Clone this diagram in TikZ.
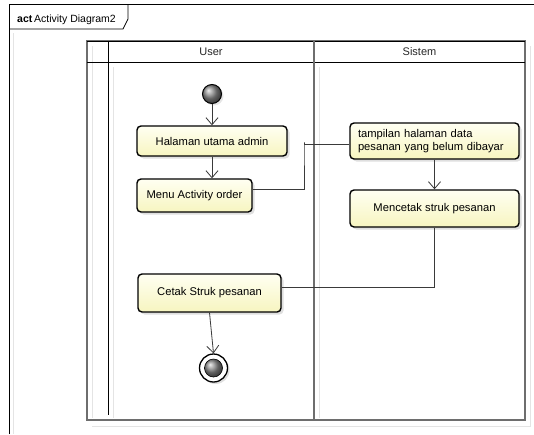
\documentclass[tikz,border=0pt]{standalone}
\usepackage{fontspec}
\setmainfont{Liberation Sans}
\usetikzlibrary{arrows.meta,shadows}

\definecolor{actTop}{HTML}{FFFFF2}
\definecolor{actBot}{HTML}{F7F5C0}
\definecolor{laneLine}{HTML}{6E6E6E}
\definecolor{ghost}{HTML}{E4E4E4}
\definecolor{flow}{HTML}{3A3A3A}

\tikzset{
  action/.style={draw=black, line width=1.4pt, rounded corners=4pt,
    top color=actTop, bottom color=actBot, font=\fontsize{11.2}{13.5}\selectfont,
    inner sep=0pt,
    drop shadow={shadow xshift=2.5pt, shadow yshift=-2.5pt, opacity=0.25, fill=gray}},
  flowline/.style={draw=flow, line width=0.8pt},
  flowarrow/.style={flowline, -{Straight Barb[length=7pt,width=12pt,line width=0.8pt]}},
  startnode/.style={circle, draw=black, line width=1pt, minimum size=19pt, inner sep=0pt,
    shading=ball, ball color=black!45,
    drop shadow={shadow xshift=2pt, shadow yshift=-2pt, opacity=0.2, fill=gray}},
  endouter/.style={circle, draw=black, line width=1.3pt, fill=white, minimum size=28pt, inner sep=0pt,
    drop shadow={shadow xshift=2pt, shadow yshift=-2pt, opacity=0.25, fill=gray}},
  endinner/.style={circle, draw=black, line width=0.6pt, minimum size=18pt, inner sep=0pt,
    shading=ball, ball color=black!45},
  lanelabel/.style={font=\fontsize{11}{13}\selectfont, text=black!85},
}

\begin{document}
\begin{tikzpicture}[x=1pt, y=-1pt]
\useasboundingbox[fill=white] (0,0) rectangle (534,434);

% diagram frame and its name tab
\draw[ghost, line width=0.8pt] (13,434) -- (13,33);
\draw[black, line width=1pt] (9,434) -- (9,4) -- (534,4);
\draw[black, line width=0.8pt] (9,29) -- (123,29) -- (128,19) -- (128,4);
\node[anchor=base west, inner sep=0pt, font=\fontsize{10.5}{12}\selectfont] (title) at (17,22)
  {\textbf{act}\,Activity Diagram2};

% swimlane partitions: faint offset lines
\draw[ghost, line width=0.8pt] (92,426) -- (530,426) -- (530,46);
\draw[ghost, line width=0.8pt] (113,67) -- (113,418);
\draw[ghost, line width=0.8pt] (319,67) -- (319,418);
\draw[ghost, line width=0.8pt] (92,46) -- (92,418);

% swimlane partitions
\draw[laneLine, line width=1.4pt] (87,41) rectangle (525,420);
\draw[black, line width=1pt] (87,41) -- (525,41);
\draw[black, line width=1pt] (87,62) -- (525,62);
\draw[black, line width=1pt] (108,41) -- (108,415);
\draw[laneLine, line width=1.6pt] (314,41) -- (314,420);
\node[lanelabel] (userlane) at (211,52) {User};
\node[lanelabel] (sistemlane) at (419.5,52) {Sistem};

% activity nodes
\node[startnode] (init) at (212,94) {};
\node[action, minimum width=150pt, minimum height=30pt] (hal) at (212,141) {Halaman utama admin};
\node[action, minimum width=115pt, minimum height=33pt] (menu) at (194.5,195.5) {Menu Activity order};
\node[action, minimum width=169pt, minimum height=36pt, text width=153pt, align=left] (tamp) at (434.5,141)
  {tampilan halaman data\\pesanan yang belum dibayar};
\node[action, minimum width=169pt, minimum height=37pt] (menc) at (434.5,208.5) {Mencetak struk pesanan};
\node[action, minimum width=143pt, minimum height=38pt] (cetak) at (209.5,293) {Cetak Struk pesanan};
\node[endouter] (final) at (213.5,368) {};
\node[endinner] (finalcore) at (final.center) {};

% control flows
\draw[flowarrow] (init) -- (hal);
\draw[flowarrow] (hal.south) -- (hal.south |- menu.north);
\draw[flowline] ([yshift=6.5pt]menu.east) -| (304,142) |- ([yshift=-3pt]tamp.west);
\draw[flowarrow] (tamp.south) -- (menc.north);
\draw[flowline] (menc.south) |- ([yshift=6pt]cetak.east);
\draw[flowarrow] (cetak.south) -- (final.north);
\end{tikzpicture}
\end{document}
